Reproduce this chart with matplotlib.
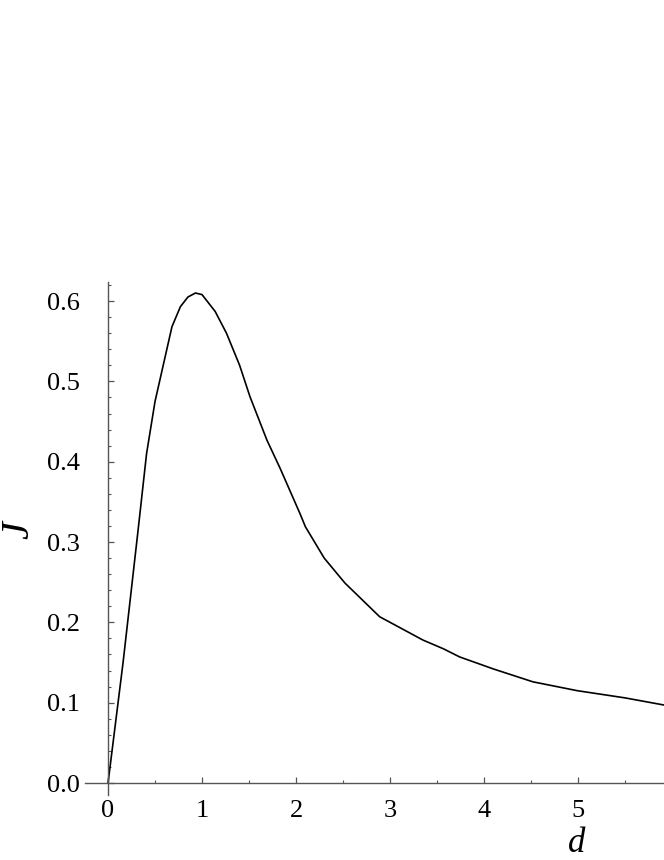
import matplotlib
matplotlib.use("Agg")
import matplotlib.pyplot as plt
from matplotlib.ticker import MultipleLocator, FormatStrFormatter

# Data
d_vals = [0.0, 0.16, 0.32, 0.41, 0.50, 0.68, 0.77, 0.85, 0.93, 1.00, 1.14, 1.26,
          1.40, 1.51, 1.69, 1.83, 2.04, 2.10, 2.30, 2.52, 2.89, 3.35, 3.57, 3.74,
          4.10, 4.52, 4.99, 5.50, 5.92]
J_vals = [0.0, 0.15, 0.315, 0.41, 0.475, 0.568, 0.593, 0.605, 0.610, 0.608, 0.587, 0.560,
          0.520, 0.481, 0.427, 0.392, 0.336, 0.319, 0.280, 0.249, 0.207, 0.178, 0.167, 0.157,
          0.142, 0.126, 0.115, 0.106, 0.097]
x_major = [0, 1, 2, 3, 4, 5]
y_major = [0.0, 0.1, 0.2, 0.3, 0.4, 0.5, 0.6]

plt.rcParams['font.family'] = ['Liberation Serif', 'DejaVu Serif']

fig = plt.figure(figsize=(6.64, 8.6), dpi=100)
W, H = 664, 860
left_px, right_px, top_px, bot_px = 85, 664, 282, 795
ax = fig.add_axes([left_px / W, (H - bot_px) / H, (right_px - left_px) / W, (bot_px - top_px) / H])

ax.plot(d_vals, J_vals, color='black', lw=1.2)

ax.set_xlim(-0.245, 5.915)
ax.set_ylim(-0.0149, 0.6237)

ax.spines['left'].set_position(('data', 0))
ax.spines['bottom'].set_position(('data', 0))
ax.spines['top'].set_visible(False)
ax.spines['right'].set_visible(False)
for s in ('left', 'bottom'):
    ax.spines[s].set_color('#555555')
    ax.spines[s].set_linewidth(1.0)

ax.set_xticks(x_major)
ax.set_yticks(y_major)
ax.xaxis.set_minor_locator(MultipleLocator(0.5))
ax.yaxis.set_minor_locator(MultipleLocator(0.02))
ax.xaxis.set_major_formatter(FormatStrFormatter('%d'))
ax.yaxis.set_major_formatter(FormatStrFormatter('%.1f'))

ax.tick_params(which='major', direction='in', length=4.0, width=0.9, color='#555555',
               labelsize=19, labelcolor='black')
ax.tick_params(which='minor', direction='in', length=2.4, width=0.8, color='#555555')
ax.tick_params(axis='y', which='major', pad=20)
ax.tick_params(axis='x', which='major', pad=12)

fig.text(577 / W, 1 - 852 / H, 'd', fontsize=25, style='italic', ha='center', va='baseline')
fig.text(19 / W, 1 - 530 / H, 'J', fontsize=29, style='italic', ha='center', va='center',
         rotation=90)

fig.savefig('out.png', dpi=100)
